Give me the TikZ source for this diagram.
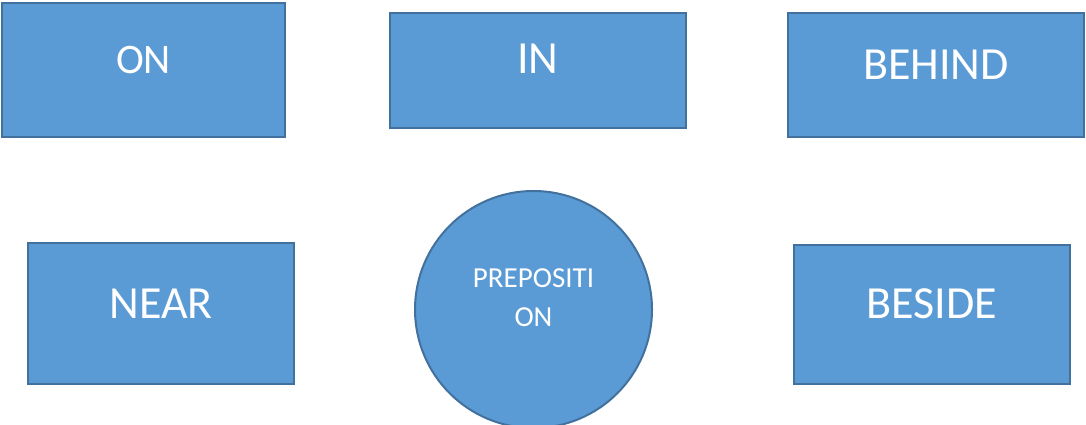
\documentclass[tikz,border=0pt]{standalone}
\usepackage{fontspec}
\setmainfont{Carlito}
\definecolor{boxfill}{HTML}{5B9BD5}
\definecolor{boxline}{HTML}{41719C}
\tikzset{
  shapebox/.style={draw=boxline, fill=boxfill, line width=2pt, rectangle, inner sep=0pt},
  shapecirc/.style={draw=boxline, fill=boxfill, line width=2pt, circle, inner sep=0pt, minimum size=237pt},
  lbl/.style={text=white, inner sep=0pt, align=center},
}
\begin{document}
\begin{tikzpicture}[x=1pt,y=-1pt]
\useasboundingbox (0,0) rectangle (1086,425);
\clip (0,0) rectangle (1086,425);
\node[shapebox, minimum width=283pt, minimum height=134pt] (on) at (143.5,70) {};
\node[shapebox, minimum width=296pt, minimum height=115pt] (in) at (538,70.5) {};
\node[shapebox, minimum width=296pt, minimum height=124pt] (behind) at (936,75) {};
\node[shapebox, minimum width=266pt, minimum height=141pt] (near) at (161,313.5) {};
\node[shapebox, minimum width=276pt, minimum height=139pt] (beside) at (932,314.5) {};
\node[shapecirc] (prep) at (533.5,309.5) {};
\node[lbl, font=\fontsize{42}{50}\selectfont] (ontxt) at ([yshift=10pt]on.center) {ON};
\node[lbl, font=\fontsize{46}{55}\selectfont] (intxt) at ([yshift=12pt]in.center) {IN};
\node[lbl, font=\fontsize{46}{55}\selectfont] (behindtxt) at ([yshift=10pt]behind.center) {BEHIND};
\node[lbl, font=\fontsize{46}{55}\selectfont] (neartxt) at ([yshift=10pt]near.center) {NEAR};
\node[lbl, font=\fontsize{46}{55}\selectfont] (besidetxt) at ([yshift=10.5pt]beside.center) {BESIDE};
\node[lbl, font=\fontsize{29}{39.5}\selectfont] (preptxt) at ([yshift=11.75pt]prep.center) {PREPOSITI\\ON};
\end{tikzpicture}
\end{document}
